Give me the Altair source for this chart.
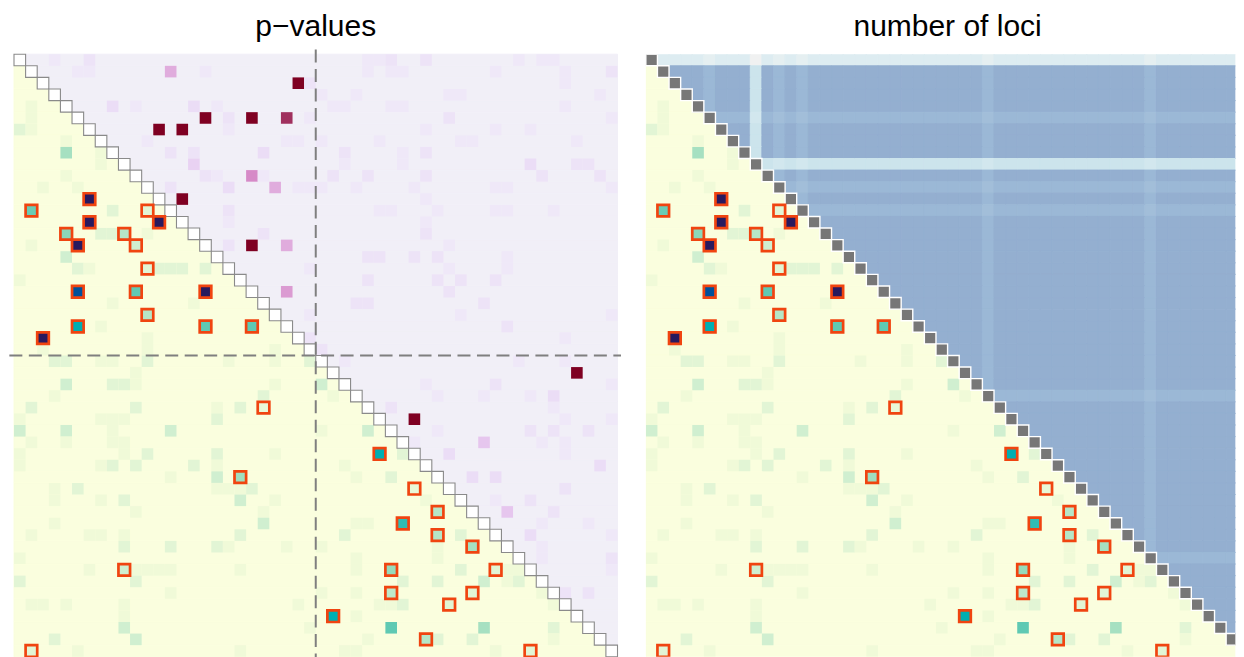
import altair as alt
import pandas as pd

N = 52
GROUP_SIZES = [26, 26]
TITLES = ["p\u2212values", "number of loci"]

# lower triangle (shared by both panels): (row, col, level)
LOWER_CELLS = [
    (4, 1, 1), (5, 1, 1), (6, 0, 2), (6, 1, 1), (7, 4, 1), (8, 4, 4.5), (8, 7, 1), (9, 7, 1),
    (10, 4, 1), (11, 2, 1), (11, 5, 1), (13, 8, 2), (15, 7, 2), (15, 8, 2), (15, 11, 1),
    (16, 1, 1), (17, 4, 3), (18, 5, 2), (18, 6, 1), (18, 12, 2), (18, 13, 2), (18, 14, 2),
    (18, 16, 2), (19, 0, 1), (21, 8, 1), (21, 15, 1), (23, 7, 1), (24, 11, 1), (25, 11, 1),
    (25, 2, 1), (25, 22, 1),
    (26, 3, 2), (26, 4, 2), (26, 7, 1), (26, 8, 1), (26, 11, 2), (26, 18, 1), (26, 22, 1), (26, 25, 2),
    (27, 10, 1), (28, 4, 3), (28, 8, 2), (28, 9, 2), (28, 10, 1), (28, 22, 1),
    (29, 3, 1), (29, 21, 2), (30, 1, 2), (30, 10, 2), (30, 17, 1), (30, 19, 2),
    (31, 0, 1), (31, 7, 1), (31, 8, 1), (31, 9, 1), (31, 17, 2),
    (32, 0, 3), (32, 4, 3), (32, 8, 1), (32, 13, 3),
    (33, 1, 1), (33, 4, 1), (33, 8, 1), (33, 9, 1),
    (34, 0, 1), (34, 9, 1), (34, 11, 2), (34, 17, 2), (34, 22, 1),
    (35, 0, 1), (35, 7, 1), (35, 8, 2), (35, 10, 2), (35, 15, 2), (35, 17, 1),
    (36, 13, 1), (36, 17, 3),
    (37, 3, 1), (37, 5, 2), (37, 17, 1), (37, 18, 1), (37, 19, 1), (37, 20, 2),
    (38, 3, 1), (38, 7, 1), (38, 9, 2), (38, 19, 3), (38, 22, 1),
    (39, 10, 1), (39, 21, 1), (40, 3, 1), (40, 21, 3),
    (41, 1, 1), (41, 6, 1), (41, 7, 1), (41, 9, 1), (41, 19, 2),
    (42, 9, 2), (42, 13, 2), (42, 17, 2), (42, 18, 1), (42, 23, 1),
    (43, 0, 1), (44, 6, 1), (44, 10, 1), (44, 11, 1), (44, 12, 1), (44, 13, 1), (44, 19, 1),
    (45, 0, 2), (45, 10, 2), (46, 13, 1),
    (47, 1, 1), (47, 2, 1), (47, 4, 1), (47, 9, 1), (47, 24, 1),
    (48, 9, 1), (49, 9, 3), (50, 3, 2), (50, 10, 3), (51, 5, 1), (51, 19, 1),
    (28, 26, 3), (29, 27, 1), (32, 26, 1), (32, 30, 3), (34, 33, 2), (35, 28, 1),
    (36, 29, 1), (36, 32, 2), (38, 35, 1), (40, 29, 1), (40, 30, 1), (41, 28, 2),
    (41, 38, 2), (42, 26, 1), (42, 36, 1), (43, 36, 1), (43, 29, 1), (44, 29, 1),
    (44, 38, 2), (44, 42, 1), (44, 43, 1), (45, 33, 2), (45, 36, 2), (45, 40, 3),
    (45, 42, 1), (45, 43, 2), (46, 26, 1), (46, 29, 1), (46, 45, 1),
    (47, 31, 1), (47, 32, 1), (47, 33, 2), (47, 46, 1), (48, 29, 1),
    (49, 25, 1), (49, 32, 6), (49, 40, 4.5), (49, 46, 2),
    (50, 30, 1), (50, 36, 2), (50, 39, 2), (50, 46, 1),
    (51, 28, 1), (51, 29, 1), (51, 41, 1),
]

# highlighted (outlined) pairs: (row, col, level)
OUTLINED = [
    (12, 6, 9), (13, 1, 5.8), (13, 11, 2), (14, 6, 9), (14, 12, 9), (15, 4, 5.2), (15, 9, 4),
    (16, 5, 9), (16, 10, 3), (18, 11, 2), (20, 5, 8), (20, 10, 6), (20, 16, 9), (22, 11, 4),
    (23, 5, 7), (23, 16, 6), (23, 20, 6), (24, 2, 9),
    (30, 21, 1.5), (36, 19, 4.7), (44, 9, 3), (51, 1, 2),
    (34, 31, 7), (37, 34, 1.5), (39, 36, 4), (40, 33, 6.5), (41, 36, 4), (42, 39, 4.5),
    (44, 32, 5), (44, 41, 2), (46, 32, 3.7), (46, 39, 2), (47, 37, 2), (48, 27, 7),
    (50, 35, 4), (51, 44, 2),
]

# upper triangle of the p-value panel: (row, col, level)
UPPER_CELLS = [
    (0, 3, 1), (0, 6, 1.5), (1, 5, 1), (1, 6, 1), (1, 13, 4), (1, 16, 1), (2, 24, 7), (2, 25, 1.5),
    (4, 8, 2), (4, 10, 1), (4, 15, 2), (4, 17, 1),
    (5, 16, 7), (5, 18, 1.5), (5, 20, 7), (5, 23, 6), (5, 25, 1),
    (6, 12, 7), (6, 14, 7), (6, 18, 1), (7, 11, 1), (7, 23, 1), (7, 24, 1),
    (8, 13, 1.5), (8, 15, 1.5), (8, 21, 2), (9, 15, 2.5),
    (10, 16, 1.5), (10, 17, 1), (10, 20, 5), (10, 21, 1),
    (11, 13, 1.5), (11, 18, 2), (11, 22, 4), (11, 24, 1), (11, 25, 1),
    (12, 14, 7), (13, 18, 1.5), (14, 18, 1), (15, 21, 1.5),
    (16, 18, 1.5), (16, 20, 7), (16, 23, 4), (18, 25, 1), (20, 23, 4.5), (22, 25, 1), (24, 25, 1.5),
    (0, 30, 1), (0, 31, 1), (0, 32, 1.5), (0, 35, 1.5), (0, 43, 1), (0, 45, 1), (0, 46, 1),
    (1, 30, 1), (1, 32, 1), (1, 33, 1), (1, 41, 1), (1, 47, 1), (1, 51, 1.5), (2, 47, 1),
    (3, 26, 1), (3, 29, 1), (3, 37, 1), (3, 38, 1), (3, 50, 1),
    (4, 27, 1), (4, 28, 1), (4, 32, 1), (4, 33, 1), (4, 47, 1), (5, 37, 1.5), (5, 51, 1),
    (6, 35, 1), (6, 41, 1), (6, 44, 1),
    (7, 26, 1), (7, 31, 1), (7, 38, 1), (7, 39, 1), (7, 48, 1),
    (8, 28, 1.5), (8, 33, 1), (8, 35, 1.5),
    (9, 28, 1), (9, 33, 1), (9, 44, 2), (9, 48, 1.5), (9, 49, 1.5),
    (10, 27, 1.5), (10, 30, 1.5), (10, 35, 1.5), (10, 45, 1.5), (10, 50, 1.5),
    (11, 26, 1), (11, 29, 1), (11, 34, 1), (11, 41, 1), (11, 42, 1), (11, 51, 1),
    (12, 35, 1), (13, 31, 1), (13, 32, 1), (13, 36, 1), (13, 41, 1), (13, 42, 1), (13, 46, 1),
    (14, 35, 1), (15, 35, 1.5), (16, 37, 1),
    (17, 30, 1.5), (17, 31, 1.5), (17, 34, 1.5), (17, 36, 1.5), (17, 42, 1),
    (18, 37, 1), (18, 42, 1), (19, 30, 1.5), (19, 36, 1.5), (19, 38, 1.5), (19, 41, 1.5),
    (20, 37, 1.5), (21, 29, 1.5), (21, 30, 1.5), (21, 40, 1.5),
    (22, 38, 1), (22, 51, 1), (23, 42, 1.5), (24, 47, 1), (25, 26, 1.5),
    (26, 28, 1), (26, 43, 1), (26, 47, 1), (27, 48, 7),
    (28, 35, 1), (28, 41, 1.5), (28, 51, 1),
    (29, 36, 1), (29, 40, 1), (29, 44, 1), (29, 46, 2), (30, 32, 1.5), (30, 46, 1),
    (31, 34, 7), (31, 47, 1), (31, 51, 1),
    (32, 36, 1), (32, 44, 1.5), (32, 46, 1.5), (32, 49, 1.5),
    (33, 34, 1), (33, 40, 3), (33, 45, 1), (33, 47, 1), (34, 37, 2), (34, 47, 1),
    (35, 50, 2), (36, 39, 2), (36, 41, 2), (37, 47, 1.5), (38, 41, 1), (38, 44, 1.5),
    (39, 42, 3), (39, 46, 1.5), (40, 45, 1), (40, 49, 1), (41, 44, 2), (41, 51, 1),
    (42, 45, 1), (43, 45, 1), (43, 51, 1.5), (44, 51, 1), (46, 47, 1.5), (46, 49, 1.5),
]

# loci per marker (right panel: pair count = product)
LOCI = [3, 12, 12, 12, 12, 10, 12, 12, 12, 5, 12, 10, 12, 10, 12, 12, 12, 12, 12, 12,
        12, 12, 12, 12, 12, 12, 12, 12, 12, 10, 12, 12, 12, 12, 12, 12, 12, 12, 12, 12,
        12, 12, 12, 10, 12, 12, 12, 12, 12, 12, 12, 12]

LOWER_COLORS = ["#FAFEDE", "#F0FAD8", "#E2F5D5", "#D0EFD0", "#B6E6C7",
                "#96DABB", "#5FC9B3", "#00AEB2", "#00509B", "#28195E"]
UPPER_COLORS = ["#F1EFF7", "#EFE8F8", "#EBDDF6", "#E6C6EE", "#E0ACDD",
                "#D68AC7", "#A0305E", "#7F0022"]
LOCI_DOMAIN = [15, 30, 36, 50, 60, 100, 120, 144]
LOCI_COLORS = ["#F0F1F1", "#E5EFF1", "#DDECF1", "#D2E7EE", "#CCE4EC",
               "#A2BED9", "#9BB8D6", "#94AFD0"]
OUTLINE_COLOR = "#F04410"

# ---- layout sizes ----
PANEL_W, PANEL_H = 604, 603
RIGHT_W = 590  # right panel is cut at the page edge, as in the original
TITLE_Y = -18.2

# ---- tables ----
def cells_df(cells, field):
    return pd.DataFrame([{"r": r, "r1": r + 1, "c": c, "c1": c + 1, field: v} for r, c, v in cells])

low_df = cells_df(LOWER_CELLS + OUTLINED, "lv")
out_df = cells_df(OUTLINED, "lv")
up_df = cells_df(UPPER_CELLS, "uv")
diag_df = pd.DataFrame([{"r": i, "r1": i + 1, "c": i, "c1": i + 1} for i in range(N)])
bg_low = pd.DataFrame([{"r": r, "r1": r + 1, "c": 0, "c1": r} for r in range(1, N)])
bg_up = pd.DataFrame([{"r": r, "r1": r + 1, "c": r + 1, "c1": N} for r in range(N - 1)])
loci_df = pd.DataFrame([{"r": r, "r1": r + 1, "c": c, "c1": c + 1, "n": LOCI[r] * LOCI[c]}
                        for r in range(N) for c in range(r + 1, N)])
split = GROUP_SIZES[0]
vline = pd.DataFrame([{"x": split, "y": -0.4, "y2": N + 0.4}])
hline = pd.DataFrame([{"y": split, "x": -0.4, "x2": N + 0.3}])

ys = alt.Scale(domain=[0, N], nice=False, zero=False, reverse=True)
xs_left = alt.Scale(domain=[0, N], nice=False, zero=False)
xs_right = alt.Scale(domain=[0, N * RIGHT_W / PANEL_W], nice=False, zero=False)


def rects(df, xs, **mark):
    return alt.Chart(df).mark_rect(**mark).encode(
        x=alt.X("c:Q", scale=xs, axis=None), x2="c1:Q",
        y=alt.Y("r:Q", scale=ys, axis=None), y2="r1:Q")


def title_layer(text, cx):
    return alt.Chart(pd.DataFrame({"t": [text]})).mark_text(
        font="Liberation Sans", fontSize=30, color="black", align="center", baseline="alphabetic"
    ).encode(text="t:N", x=alt.value(cx), y=alt.value(TITLE_Y))


low_scale = alt.Scale(domain=list(range(len(LOWER_COLORS))), range=LOWER_COLORS, interpolate="rgb")
up_scale = alt.Scale(domain=list(range(len(UPPER_COLORS))), range=UPPER_COLORS, interpolate="rgb")
loci_scale = alt.Scale(domain=LOCI_DOMAIN, range=LOCI_COLORS, interpolate="rgb")

left = alt.layer(
    rects(bg_low, xs_left, fill=LOWER_COLORS[0], stroke=LOWER_COLORS[0], strokeWidth=1),
    rects(bg_up, xs_left, fill=UPPER_COLORS[0], stroke=UPPER_COLORS[0], strokeWidth=1),
    rects(low_df, xs_left).encode(color=alt.Color("lv:Q", scale=low_scale, legend=None)),
    rects(up_df, xs_left).encode(color=alt.Color("uv:Q", scale=up_scale, legend=None)),
    rects(diag_df, xs_left, fill="white", stroke="#8A8A8A", strokeWidth=1.1),
    rects(out_df, xs_left, fillOpacity=0, stroke=OUTLINE_COLOR, strokeWidth=2.7),
    alt.Chart(vline).mark_rule(color="#7F7F7F", strokeWidth=2, strokeDash=[13, 6.5]).encode(
        x=alt.X("x:Q", scale=xs_left, axis=None), y=alt.Y("y:Q", scale=ys, axis=None), y2="y2:Q"),
    alt.Chart(hline).mark_rule(color="#7F7F7F", strokeWidth=2, strokeDash=[13, 6.5]).encode(
        y=alt.Y("y:Q", scale=ys, axis=None), x=alt.X("x:Q", scale=xs_left, axis=None), x2="x2:Q"),
    title_layer(TITLES[0], PANEL_W / 2),
).resolve_scale(color="independent").properties(width=PANEL_W, height=PANEL_H)

right = alt.layer(
    rects(bg_low, xs_right, fill=LOWER_COLORS[0], stroke=LOWER_COLORS[0], strokeWidth=1, clip=True),
    rects(loci_df, xs_right, strokeWidth=1, clip=True).encode(
        color=alt.Color("n:Q", scale=loci_scale, legend=None),
        stroke=alt.Stroke("n:Q", scale=loci_scale, legend=None)),
    rects(low_df, xs_right, clip=True).encode(color=alt.Color("lv:Q", scale=low_scale, legend=None)),
    rects(diag_df, xs_right, fill="#777777", stroke="white", strokeWidth=1.4, clip=True),
    rects(out_df, xs_right, fillOpacity=0, stroke=OUTLINE_COLOR, strokeWidth=2.7, clip=True),
    title_layer(TITLES[1], PANEL_W / 2),
).resolve_scale(color="independent", stroke="independent").properties(width=RIGHT_W, height=PANEL_H)

chart = alt.hconcat(left, right, spacing=28.35, bounds="flush").resolve_scale(
    color="independent", stroke="independent"
).properties(padding={"left": 0, "top": 3, "right": 0, "bottom": 0}).configure_view(strokeWidth=0)

chart.save("out.html", embed_options={"renderer": "svg", "actions": False})
